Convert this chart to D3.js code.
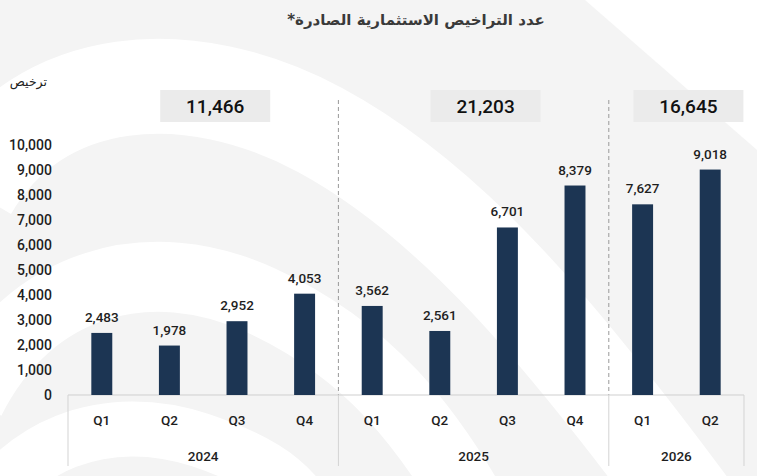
<html>
<head>
	<meta charset="utf-8">
	<title>licences</title>
	<style>
		body {
			margin: 0;
			padding: 0;
			background: #f4f4f4;
			font-family: "Roboto", sans-serif;
		}
		svg { display: block; }
		.ytick text { font-size: 14px; fill: #1e1e1e; font-weight: 500; }
		.qlabel, .ylabel { font-size: 13.5px; fill: #1e1e1e; font-weight: 500; }
		.val { font-size: 13.5px; fill: #1e1e1e; font-weight: 500; }
		.total { font-size: 19px; font-weight: 500; fill: #111; }
	</style>
</head>
<body>
	<svg width="757" height="476"></svg>
	<script src="https://d3js.org/d3.v7.min.js"></script>
	<script>

		// data
		var quarters = ["Q1", "Q2", "Q3", "Q4", "Q1", "Q2", "Q3", "Q4", "Q1", "Q2"];
		var quarterYears = ["2024", "2024", "2024", "2024", "2025", "2025", "2025", "2025", "2026", "2026"];
		var values = [2483, 1978, 2952, 4053, 3562, 2561, 6701, 8379, 7627, 9018];
		var years = ["2024", "2025", "2026"];
		var yearTotals = [11466, 21203, 16645];
		var yTicks = [0, 1000, 2000, 3000, 4000, 5000, 6000, 7000, 8000, 9000, 10000];

		var title = "عدد التراخيص الاستثمارية الصادرة*";
		var unit = "ترخيص";

		var W = 757, H = 476;
		var plotLeft = 68, plotRight = 744, base = 395, plotTop = 145;
		var svg = d3.select("svg");

		// background swooshes (decoration)
		var bg = svg.append("g").attr("fill", "none").attr("stroke", "#fff");
		bg.append("path")
			.attr("d", "M-30,190 C40,70 190,60 320,130 S560,330 700,520")
			.attr("stroke-width", 95);
		bg.append("path")
			.attr("d", "M-30,400 C30,280 150,250 260,300 S430,430 480,520")
			.attr("stroke-width", 70);
		bg.append("path")
			.attr("d", "M-30,540 C10,440 110,410 200,440 S300,500 320,530")
			.attr("stroke-width", 55);
		svg.append("path")
			.attr("d", "M585,0 L757,0 L757,150 Z")
			.attr("fill", "#fff");

		var keys = d3.range(values.length);
		var x = d3.scaleBand().domain(keys).range([plotLeft, plotRight]).paddingInner(0.69).paddingOuter(0.345);
		var y = d3.scaleLinear().domain([0, 10000]).range([base, plotTop]);
		var fmt = d3.format(",");

		// title
		svg.append("text")
			.attr("x", 416).attr("y", 25)
			.attr("text-anchor", "middle")
			.attr("direction", "rtl")
			.style("font-family", "DejaVu Sans")
			.style("font-weight", "bold")
			.style("font-size", "15px")
			.style("fill", "#3a3a3a")
			.text(title);

		svg.append("text")
			.attr("x", 47).attr("y", 86)
			.attr("text-anchor", "start")
			.attr("direction", "rtl")
			.style("font-family", "DejaVu Sans")
			.style("font-size", "12.5px")
			.style("fill", "#222")
			.text(unit);

		// y axis, labels only
		var yAxis = svg.append("g")
			.attr("class", "ytick")
			.attr("transform", "translate(" + plotLeft + ",0)")
			.call(d3.axisLeft(y).tickValues(yTicks).tickFormat(fmt).tickSize(0).tickPadding(16));
		yAxis.select(".domain").remove();
		yAxis.selectAll("text").style("font-family", "Roboto");

		// groups per year
		var groups = years.map(function (yr, i) {
			var idx = keys.filter(function (k) { return quarterYears[k] == yr; });
			var x0 = x(idx[0]) - x.step() * x.paddingInner() / 2;
			var x1 = x(idx[idx.length - 1]) + x.bandwidth() + x.step() * x.paddingInner() / 2;
			return { year: yr, total: yearTotals[i], x0: x0, x1: x1 };
		});

		// dashed separators
		svg.selectAll(".sep")
			.data(groups.slice(1))
			.enter().append("line")
			.attr("x1", function (d) { return d.x0; })
			.attr("x2", function (d) { return d.x0; })
			.attr("y1", 100).attr("y2", base)
			.attr("stroke", "#999")
			.attr("stroke-width", 1)
			.attr("stroke-dasharray", "4,3");

		// category axis frame
		svg.append("line")
			.attr("x1", plotLeft).attr("x2", plotRight)
			.attr("y1", base).attr("y2", base)
			.attr("stroke", "#cfcfcf");
		var edges = groups.map(function (d) { return d.x0; }).concat([plotRight]);
		svg.selectAll(".vline")
			.data(edges)
			.enter().append("line")
			.attr("x1", function (d) { return d; })
			.attr("x2", function (d) { return d; })
			.attr("y1", base).attr("y2", 466)
			.attr("stroke", "#d3d3d3");

		// total boxes
		var boxW = 110;
		var tb = svg.selectAll(".tbox")
			.data(groups)
			.enter().append("g");
		tb.append("rect")
			.attr("x", function (d) { return (d.x0 + d.x1) / 2 + 12 - boxW / 2; })
			.attr("y", 90)
			.attr("width", boxW)
			.attr("height", 32)
			.attr("fill", "#ebebeb");
		tb.append("text")
			.attr("class", "total")
			.attr("x", function (d) { return (d.x0 + d.x1) / 2 + 12; })
			.attr("y", 113)
			.attr("text-anchor", "middle")
			.text(function (d) { return fmt(d.total); });

		// bars
		svg.selectAll(".bar")
			.data(keys)
			.enter().append("rect")
			.attr("x", function (d) { return x(d); })
			.attr("y", function (d) { return y(values[d]); })
			.attr("width", x.bandwidth())
			.attr("height", function (d) { return base - y(values[d]); })
			.attr("fill", "#1c3553");

		svg.selectAll(".val")
			.data(keys)
			.enter().append("text")
			.attr("class", "val")
			.attr("x", function (d) { return x(d) + x.bandwidth() / 2; })
			.attr("y", function (d) { return y(values[d]) - 11; })
			.attr("text-anchor", "middle")
			.text(function (d) { return fmt(values[d]); });

		// quarter and year labels
		svg.selectAll(".qlabel")
			.data(keys)
			.enter().append("text")
			.attr("class", "qlabel")
			.attr("x", function (d) { return x(d) + x.bandwidth() / 2; })
			.attr("y", 425)
			.attr("text-anchor", "middle")
			.text(function (d) { return quarters[d]; });

		svg.selectAll(".ylabel")
			.data(groups)
			.enter().append("text")
			.attr("class", "ylabel")
			.attr("x", function (d) { return (d.x0 + d.x1) / 2; })
			.attr("y", 461)
			.attr("text-anchor", "middle")
			.text(function (d) { return d.year; });

	</script>
</body>
</html>
